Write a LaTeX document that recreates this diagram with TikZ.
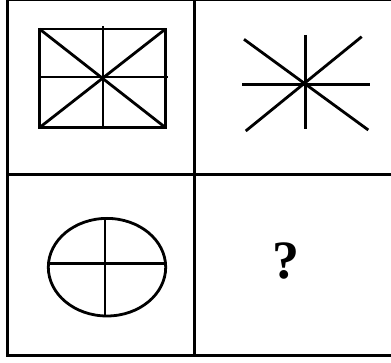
\documentclass[tikz,border=0pt]{standalone}
\usepackage{fontspec}
\setmainfont{Liberation Serif}
\begin{document}
\begin{tikzpicture}[x=1pt,y=-1pt,
  frame/.style={line width=3pt},
  fig/.style={line width=2.8pt},
  qmark/.style={font=\fontsize{54}{54}\selectfont\bfseries, inner sep=0pt}]
\useasboundingbox (0,0) rectangle (391,363);
% frame
\draw[line width=1pt] (7,1) -- (391,1);
\draw[frame] (7.5,0) -- (7.5,356.5);
\draw[line width=2.5pt] (6,355.7) -- (391,355.7);
\draw[frame] (194,0) -- (194,356);
\draw[frame] (7,175) -- (391,175);
% top-left figure
\draw[fig] (39.5,29) rectangle (165.5,127.6);
\draw[fig] (39.5,29) -- (165.5,127.6);
\draw[fig] (165.5,29) -- (39.5,127.6);
\draw[fig] (103,26) -- (103,127.6);
\draw[fig] (39.5,77) -- (168,77);
% top-right figure
\draw[fig] (305.3,35) -- (305.3,129);
\draw[fig] (242.3,84.3) -- (370,84.3);
\draw[fig] (244,39.3) -- (368.3,130);
\draw[fig] (361.7,36.7) -- (245.7,131);
% bottom-left figure
\draw[fig] (107,267.2) ellipse [x radius=58.7, y radius=48.8];
\draw[fig] (48.3,263.3) -- (165.7,263.3);
\draw[fig] (105,218.4) -- (105,316);
% question mark
\node[qmark, anchor=south] (q) at (286,279.5) {?};
\end{tikzpicture}
\end{document}
